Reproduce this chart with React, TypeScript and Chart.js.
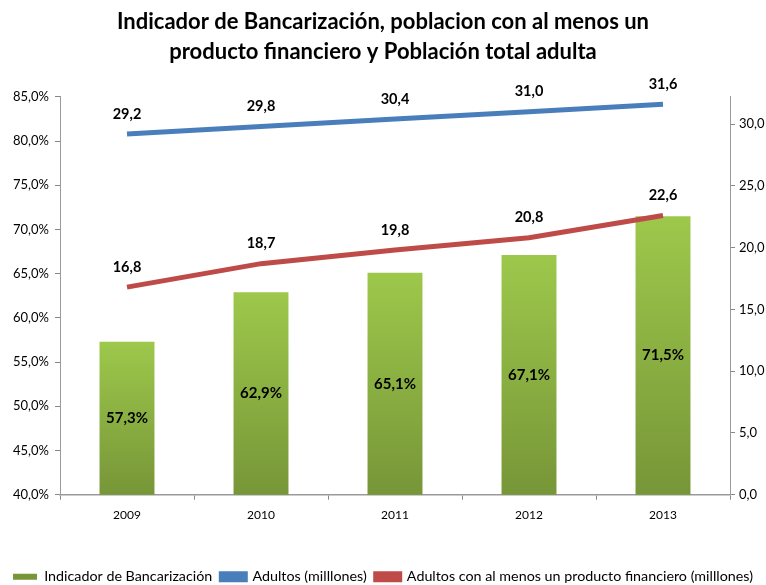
import React, { useEffect, useRef } from "react";
import { Chart, registerables } from "chart.js";

Chart.register(...registerables);

const categories = ["2009", "2010", "2011", "2012", "2013"];
const bancarizacion = [57.3, 62.9, 65.1, 67.1, 71.5];
const adultos = [29.2, 29.8, 30.4, 31.0, 31.6];
const adultosProducto = [16.8, 18.7, 19.8, 20.8, 22.6];
const titleLines = [
  "Indicador de Bancarización, poblacion con al menos un",
  "producto financiero y Población total adulta",
];

const fmt = (v: number, d: number) => v.toFixed(d).replace(".", ",");

const FONT = "Lato, 'Liberation Sans', sans-serif";

const labelPlugin = {
  id: "valueLabels",
  afterDatasetsDraw(chart: any) {
    const ctx = chart.ctx;
    ctx.save();
    ctx.fillStyle = "#000";
    ctx.textAlign = "center";
    ctx.textBaseline = "middle";
    const bottom = chart.chartArea.bottom;
    chart.data.datasets.forEach((ds: any, i: number) => {
      const meta = chart.getDatasetMeta(i);
      meta.data.forEach((el: any, j: number) => {
        const v = ds.data[j];
        if (ds.type === "bar") {
          ctx.font = `bold 15px ${FONT}`;
          const mid = (el.y + bottom) / 2;
          ctx.fillText(fmt(v, 1) + "%", el.x, mid);
        } else {
          ctx.font = `bold 14.5px ${FONT}`;
          ctx.fillText(fmt(v, 1), el.x, el.y - 20);
        }
      });
    });
    ctx.restore();
  },
};

export default function App() {
  const ref = useRef<HTMLCanvasElement>(null);
  useEffect(() => {
    if (!ref.current) return;
    const chart = new Chart(ref.current, {
      type: "bar",
      data: {
        labels: categories,
        datasets: [
          {
            type: "bar",
            label: "Indicador de Bancarización",
            data: bancarizacion,
            yAxisID: "y",
            order: 2,
            barPercentage: 0.41,
            categoryPercentage: 1,
            backgroundColor: (c: any) => {
              const chart = c.chart;
              const area = chart.chartArea;
              if (!area || c.dataIndex === undefined) return "#8db645";
              const ys = chart.scales.y;
              const top = ys.getPixelForValue(c.raw);
              const g = chart.ctx.createLinearGradient(0, top, 0, area.bottom);
              g.addColorStop(0, "#9dc84b");
              g.addColorStop(1, "#779638");
              return g;
            },
            borderWidth: 0,
          } as any,
          {
            type: "line",
            label: "Adultos (milllones)",
            data: adultos,
            yAxisID: "y1",
            order: 0,
            borderColor: "#4a7ebb",
            backgroundColor: "#4a7ebb",
            borderWidth: 5,
            pointRadius: 0,
            tension: 0,
          },
          {
            type: "line",
            label: "Adultos con al menos un producto financiero (milllones)",
            data: adultosProducto,
            yAxisID: "y1",
            order: 1,
            borderColor: "#be4b48",
            backgroundColor: "#be4b48",
            borderWidth: 5,
            pointRadius: 0,
            tension: 0,
          },
        ],
      },
      options: {
        responsive: false,
        animation: false,
        layout: { padding: { left: 0, right: 0, top: 0, bottom: -9 } },
        plugins: {
          tooltip: { enabled: false },
          title: {
            display: true,
            text: titleLines,
            color: "#000",
            font: { family: FONT, size: 22, weight: "bold", lineHeight: 1.36 },
            padding: { top: 7, bottom: 30 },
          },
          legend: {
            position: "bottom",
            labels: {
              sort: (a: any, b: any) => a.datasetIndex - b.datasetIndex,
              color: "#000",
              font: { family: FONT, size: 14.3 },
              boxWidth: 24,
              boxHeight: 6,
              padding: 9,
            },
          },
        },
        scales: {
          x: {
            offset: true,
            afterFit: (s: any) => {
              s.height = 66;
            },
            grid: {
              display: true,
              offset: true,
              drawOnChartArea: false,
              drawTicks: true,
              tickLength: 5,
              color: "#888",
            },
            border: { display: true, color: "#9a9a9a", width: 1.5 },
            ticks: { color: "#000", font: { family: FONT, size: 12 }, padding: 8 },
          },
          y: {
            position: "left",
            min: 40,
            max: 85,
            afterFit: (s: any) => {
              s.width = 60;
            },
            grid: { drawOnChartArea: false, tickLength: 5, color: "#888" },
            border: { display: true, color: "#9a9a9a", width: 1 },
            ticks: {
              stepSize: 5,
              color: "#000",
              font: { family: FONT, size: 13 },
              padding: 6,
              callback: (v: any) => fmt(Number(v), 1) + "%",
            },
          },
          y1: {
            position: "right",
            min: 0,
            max: 32.2,
            afterFit: (s: any) => {
              s.width = 36;
            },
            afterBuildTicks: (s: any) => {
              s.ticks = [0, 5, 10, 15, 20, 25, 30].map((v) => ({ value: v }));
            },
            grid: { drawOnChartArea: false, tickLength: 5, color: "#888" },
            border: { display: true, color: "#9a9a9a", width: 1 },
            ticks: {
              color: "#000",
              font: { family: FONT, size: 13 },
              padding: 4,
              callback: (v: any) => fmt(Number(v), 1),
            },
          },
        },
      },
      plugins: [labelPlugin],
    } as any);
    return () => chart.destroy();
  }, []);
  return (
    <div style={{ position: "absolute", left: 0, top: 0, width: 766, height: 585, overflow: "hidden", background: "#fff" }}>
      <canvas ref={ref} width={766} height={585} />
    </div>
  );
}
